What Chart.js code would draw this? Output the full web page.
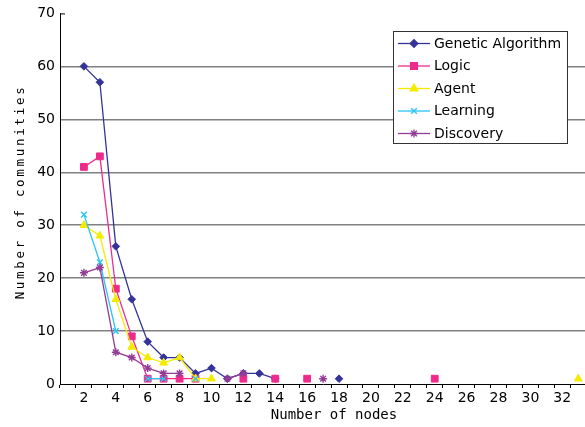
<!DOCTYPE html>
<html>
<head>
<meta charset="utf-8">
<script src="https://cdn.jsdelivr.net/npm/chart.js@4.4.1/dist/chart.umd.min.js"></script>
<style>
    html, body { margin: 0; padding: 0; background: #fff; overflow: hidden; }
    #wrap { width: 592px; height: 427px; }
</style>
</head>
<body>
<div id="wrap"><canvas id="nodesChart" width="592" height="427"></canvas></div>
<script>
// Categorias do eixo X (número de nós)
const nodes = Array.from({ length: 33 }, (_, i) => String(i + 1));

// Séries (null = sem valor, o Excel deixa a linha interrompida)
const N = null;
const geneticAlgorithm = [N, 60, 57, 26, 16, 8, 5, 5, 2, 3, 1, 2, 2, 1, N, N, N, 1, N, N, N, N, N, N, N, N, N, N, N, N, N, N, N];
const logic            = [N, 41, 43, 18, 9, 1, 1, 1, 1, N, N, 1, N, 1, N, 1, N, N, N, N, N, N, N, 1, N, N, N, N, N, N, N, N, N];
const agent            = [N, 30, 28, 16, 7, 5, 4, 5, 1, 1, N, N, N, N, N, N, N, N, N, N, N, N, N, N, N, N, N, N, N, N, N, N, 1];
const learning         = [N, 32, 23, 10, N, 1, 1, N, 1, N, N, N, N, N, N, N, N, N, N, N, N, N, N, N, N, N, N, N, N, N, N, N, N];
const discovery        = [N, 21, 22, 6, 5, 3, 2, 2, N, N, 1, 2, N, N, N, N, 1, N, N, N, N, N, N, N, N, N, N, N, N, N, N, N, N];

const yTicks = [0, 10, 20, 30, 40, 50, 60, 70];
const xTitle = 'Number of nodes';
const yTitle = 'Number of communities';

function serie(label, data, color, style, radius, order) {
    return {
        label: label,
        data: data,
        borderColor: color,
        backgroundColor: color,
        borderWidth: 1.3,
        pointStyle: style,
        pointRadius: radius,
        pointBorderWidth: (style === 'crossRot' || style === 'star') ? 1.4 : 1,
        pointBackgroundColor: color,
        pointBorderColor: color,
        tension: 0,
        spanGaps: false,
        order: order
    };
}

// Legenda desenhada dentro da área do gráfico (caixa branca)
const boxLegend = {
    id: 'boxLegend',
    afterDraw(chart) {
        const ctx = chart.ctx;
        ctx.save();
        ctx.fillStyle = '#fff';
        ctx.fillRect(393.5, 31.5, 174, 112);
        ctx.strokeStyle = '#333';
        ctx.lineWidth = 1;
        ctx.strokeRect(393.5, 31.5, 174, 112);
        const rows = [43.5, 66, 88.5, 111, 133.5];
        chart.data.datasets.forEach((ds, i) => {
            const y = rows[i];
            ctx.strokeStyle = ds.borderColor;
            ctx.lineWidth = 1.3;
            ctx.beginPath();
            ctx.moveTo(398, y);
            ctx.lineTo(430, y);
            ctx.stroke();
            ctx.fillStyle = ds.borderColor;
            Chart.helpers.drawPoint(ctx, {
                pointStyle: ds.pointStyle,
                radius: ds.pointRadius,
                borderWidth: ds.pointBorderWidth,
                rotation: 0
            }, 414, y);
            ctx.fillStyle = '#000';
            ctx.font = '14px "DejaVu Sans"';
            ctx.textBaseline = 'middle';
            ctx.textAlign = 'left';
            ctx.fillText(ds.label, 434, y + 0.5);
        });

        // títulos dos eixos (fonte monoespaçada, como no original)
        ctx.fillStyle = '#000';
        ctx.textAlign = 'center';
        ctx.textBaseline = 'middle';
        ctx.font = '14px "DejaVu Sans Mono"';
        ctx.fillText(xTitle, 334, 415);
        ctx.translate(21, 192);
        ctx.rotate(-Math.PI / 2);
        ctx.font = '12.5px "DejaVu Sans Mono"';
        ctx.letterSpacing = '2.7px';
        ctx.fillText(yTitle, 0, 0);
        ctx.restore();

        // pequeno traço no topo do eixo Y
        const a = chart.chartArea;
        ctx.save();
        ctx.strokeStyle = '#000';
        ctx.lineWidth = 1;
        ctx.beginPath();
        ctx.moveTo(a.left, a.top + 0.5);
        ctx.lineTo(a.left + 5, a.top + 0.5);
        ctx.stroke();
        ctx.restore();
    }
};

const ctxEl = document.getElementById('nodesChart');
const nodesChart = new Chart(ctxEl, {
    type: 'line',
    data: {
        labels: nodes,
        datasets: [
            serie('Genetic Algorithm', geneticAlgorithm, '#333399', 'rectRot', 3.8, 4),
            serie('Logic', logic, '#ee2a8c', 'rect', 4.8, 3),
            serie('Agent', agent, '#f5ea00', 'triangle', 4.5, 2),
            serie('Learning', learning, '#29c4f5', 'crossRot', 4, 1),
            serie('Discovery', discovery, '#933c96', 'star', 4, 0)
        ]
    },
    plugins: [boxLegend],
    options: {
        responsive: false,
        animation: false,
        devicePixelRatio: 1,
        layout: { padding: { top: 13, right: 0, left: 0, bottom: 0 } },
        plugins: {
            legend: { display: false },
            tooltip: { enabled: false }
        },
        scales: {
            x: {
                type: 'category',
                offset: true,
                grid: {
                    offset: true,
                    drawOnChartArea: false,
                    drawTicks: true,
                    tickLength: 4,
                    color: '#000'
                },
                border: { color: '#000', width: 1 },
                ticks: {
                    autoSkip: false,
                    maxRotation: 0,
                    padding: 2,
                    color: '#000',
                    font: { family: 'DejaVu Sans', size: 14 },
                    callback: function(value, index) {
                        const n = index + 1;
                        return n % 2 === 0 ? String(n) : '';
                    }
                },
                afterFit(scale) { scale.height = 43; }
            },
            y: {
                min: 0,
                max: 70,
                afterBuildTicks(scale) { scale.ticks = yTicks.map(v => ({ value: v })); },
                grid: {
                    drawTicks: false,
                    lineWidth: 1.4,
                    color: ctx => (ctx.tick && ctx.tick.value > 0 && ctx.tick.value < 70) ? '#808080' : 'rgba(0,0,0,0)'
                },
                border: { color: '#000', width: 1 },
                ticks: {
                    padding: 5,
                    color: '#000',
                    font: { family: 'DejaVu Sans', size: 14 }
                },
                afterFit(scale) { scale.width = 60; }
            }
        }
    }
});
</script>
</body>
</html>
